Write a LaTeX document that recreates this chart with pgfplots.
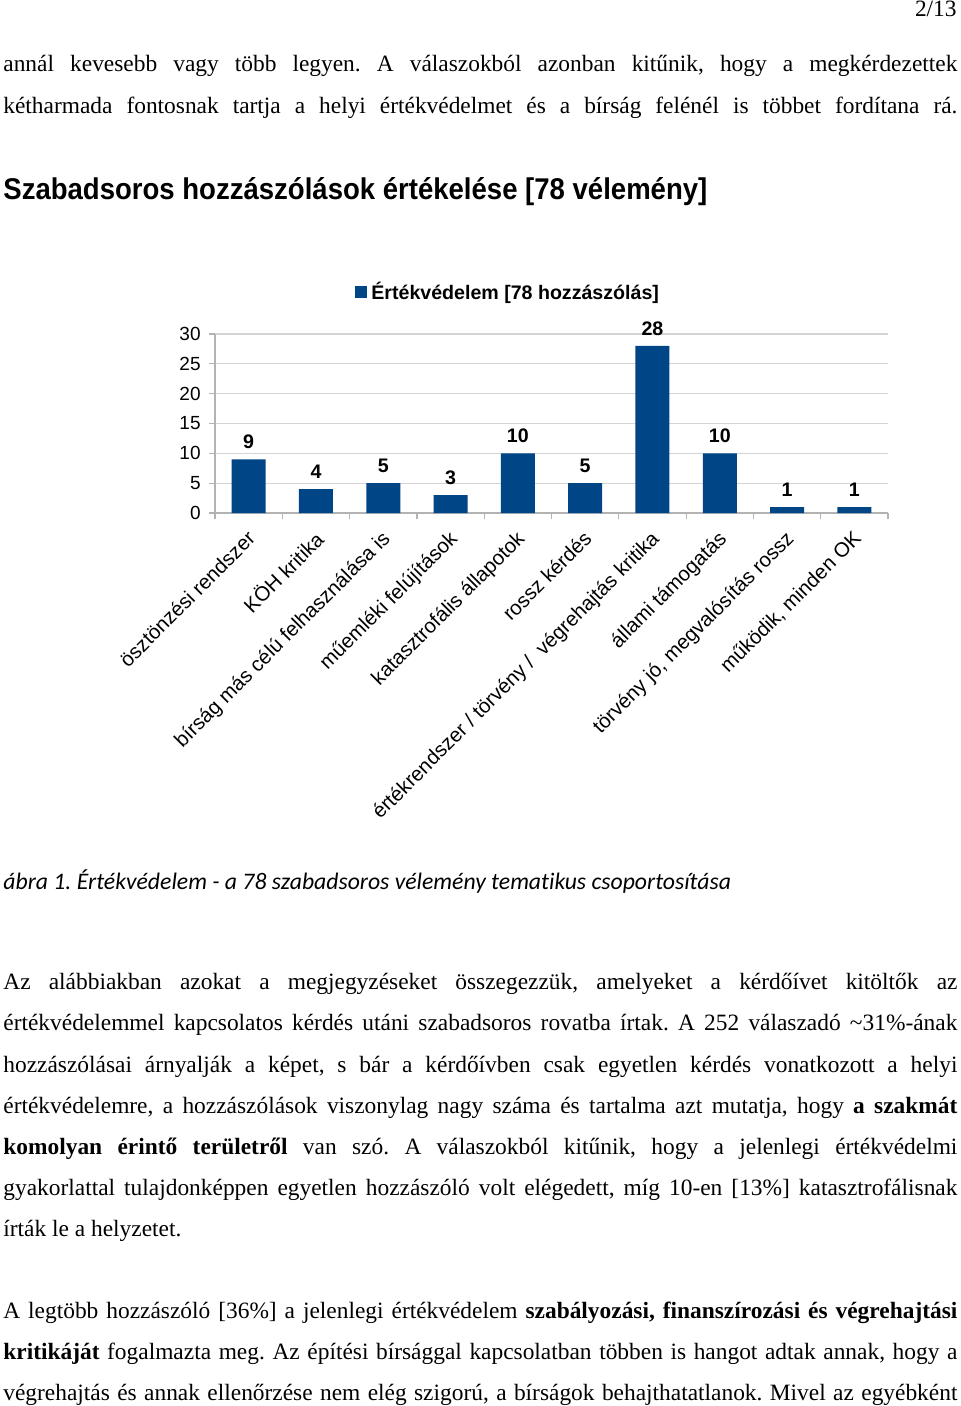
\documentclass[border=0pt]{standalone}
\usepackage{pgfplots}
\pgfplotsset{compat=1.18}
\usepackage{fontspec}
\usepackage{graphicx}
\setmainfont{Liberation Serif}
\newfontfamily\arial{Liberation Sans}
\newfontfamily\calibri[Ligatures=NoCommon]{Carlito}
\definecolor{barblue}{HTML}{004586}
\definecolor{gridgray}{HTML}{D4D4D4}
\definecolor{axisgray}{HTML}{B3B3B3}
\newcommand{\jline}[1]{\hbox to 477pt{#1}}
\frenchspacing
\begin{document}
\begin{tikzpicture}
\begin{scope}[x=0.5pt,y=-0.5pt,
  body/.style={anchor=base west, inner sep=0, font=\fontsize{11.7}{14}\selectfont}]
\useasboundingbox[fill=white] (0,0) rectangle (960,1406);
\node[anchor=base east, inner sep=0, font=\fontsize{11.7}{14}\selectfont] at (957,17) {2/13};
\node[body] at (3,72) {\jline{annál kevesebb vagy több legyen. A válaszokból azonban kitűnik, hogy a megkérdezettek}};
\node[body] at (3,114) {\jline{kétharmada fontosnak tartja a helyi értékvédelmet és a bírság felénél is többet fordítana rá.}};
\node[anchor=base west, inner sep=0, font=\arial\bfseries\fontsize{15}{18}\selectfont] at (3,200)
  {\resizebox{352pt}{\height}{Szabadsoros hozzászólások értékelése [78 vélemény]}};
\node[anchor=base west, inner sep=0, font=\calibri\itshape\fontsize{11.85}{14}\selectfont] at (3,889)
  {ábra 1. Értékvédelem - a 78 szabadsoros vélemény tematikus csoportosítása};
\node[body] at (3,989) {\jline{Az alábbiakban azokat a megjegyzéseket összegezzük, amelyeket a kérdőívet kitöltők az}};
\node[body] at (3,1030) {\jline{értékvédelemmel kapcsolatos kérdés utáni szabadsoros rovatba írtak. A 252 válaszadó \textasciitilde31\%-ának}};
\node[body] at (3,1072) {\jline{hozzászólásai árnyalják a képet, s bár a kérdőívben csak egyetlen kérdés vonatkozott a helyi}};
\node[body] at (3,1113) {\jline{értékvédelemre, a hozzászólások viszonylag nagy száma és tartalma azt mutatja, hogy \textbf{a szakmát}}};
\node[body] at (3,1154) {\jline{\textbf{komolyan érintő területről} van szó. A válaszokból kitűnik, hogy a jelenlegi értékvédelmi}};
\node[body] at (3,1195) {\jline{gyakorlattal tulajdonképpen egyetlen hozzászóló volt elégedett, míg 10-en [13\%] katasztrofálisnak}};
\node[body] at (3,1236) {írták le a helyzetet.};
\node[body] at (3,1318) {\jline{A legtöbb hozzászóló [36\%] a jelenlegi értékvédelem \textbf{szabályozási, finanszírozási és végrehajtási}}};
\node[body] at (3,1359) {\jline{\textbf{kritikáját} fogalmazta meg. Az építési bírsággal kapcsolatban többen is hangot adtak annak, hogy a}};
\node[body] at (3,1400) {\jline{végrehajtás és annak ellenőrzése nem elég szigorú, a bírságok behajthatatlanok. Mivel az egyébként}};
\end{scope}
\begin{axis}[
  at={(107.5pt,-256.5pt)}, anchor=south west,
  scale only axis, width=336.5pt, height=89.5pt,
  ybar, bar width=17pt,
  xmin=-0.5, xmax=9.5, ymin=0, ymax=30,
  ytick={0,5,...,30},
  xtick={0,...,9},
  xticklabels={ösztönzési rendszer, KÖH kritika, bírság más célú felhasználása is,
    műemléki felújítások, katasztrofális állapotok, rossz kérdés,
    értékrendszer / törvény /\ \ végrehajtás kritika, állami támogatás,
    {törvény jó, megvalósítás rossz}, {működik, minden OK}},
  minor xtick={-0.5,0.5,...,9.5},
  axis x line*=bottom, axis y line*=left,
  axis line style={axisgray, line width=0.6pt},
  ymajorgrids, grid style={gridgray, line width=0.6pt},
  tick align=outside,
  major x tick style={draw=none},
  minor x tick style={axisgray, line width=0.6pt},
  ytick style={axisgray, line width=0.6pt},
  major tick length=3pt, minor tick length=3pt,
  /pgf/number format/assume math mode=true,
  yticklabel style={font=\arial\fontsize{9.5}{11}\selectfont, inner sep=0pt, xshift=-4pt},
  xticklabel style={rotate=45, anchor=north east, font=\arial\fontsize{10.2}{12}\selectfont, inner sep=1pt, xshift=-3.5pt, yshift=-1.5pt},
  nodes near coords,
  every node near coord/.append style={font=\arial\bfseries\fontsize{9.8}{11}\selectfont, inner sep=0pt, anchor=south, yshift=5pt},
  legend entries={Értékvédelem [78 hozzászólás]},
  legend style={at={(0.208,1.235)}, anchor=west, draw=none, fill=none,
    font=\arial\bfseries\fontsize{9.8}{11}\selectfont, inner sep=0pt},
  legend image code/.code={\fill[barblue] (0pt,-3pt) rectangle (6pt,3pt);},
]
\addplot[fill=barblue, draw=none] coordinates {
  (0,9) (1,4) (2,5) (3,3) (4,10) (5,5) (6,28) (7,10) (8,1) (9,1)};
\end{axis}
\end{tikzpicture}
\end{document}
